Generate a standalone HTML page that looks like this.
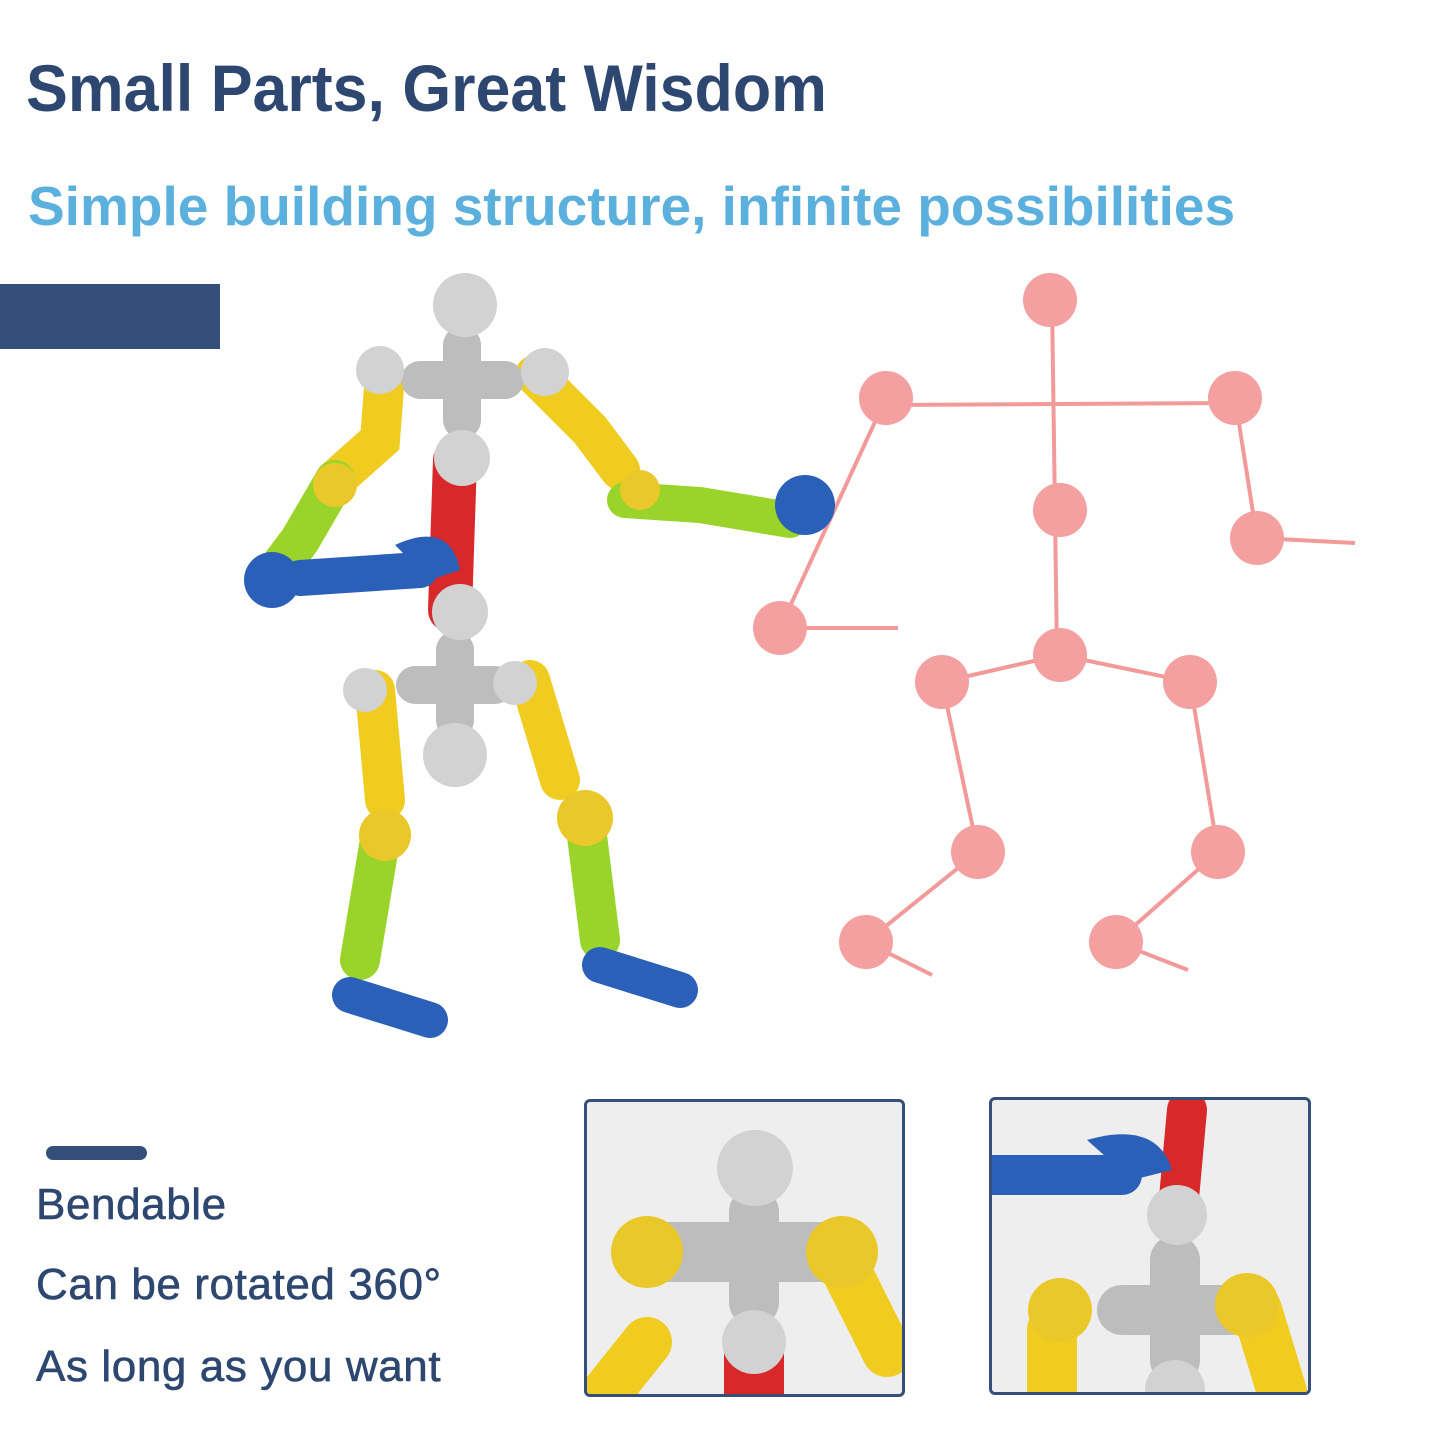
<!DOCTYPE html>
<html><head><meta charset="utf-8"><style>
body{margin:0;width:1445px;height:1445px;background:#fff;overflow:hidden;position:relative;font-family:"Liberation Sans",sans-serif}
.t1{position:absolute;left:26px;top:50px;font-size:66px;font-weight:bold;color:#2d4770;transform-origin:0 0;transform:scaleX(0.95);white-space:nowrap}
.t2{position:absolute;left:28px;top:174px;font-size:55px;font-weight:bold;color:#5bb0dd;white-space:nowrap;transform-origin:0 0;transform:scaleX(1.0)}
.bar{position:absolute;left:0;top:284px;width:220px;height:65px;background:#34507a}
.tx{position:absolute;left:36px;font-size:44px;color:#2d4770;letter-spacing:0.6px;-webkit-text-stroke:0.6px #2d4770}
.pill{position:absolute;left:46px;top:1146px;width:101px;height:14px;border-radius:7px;background:#34507a}
.box{position:absolute;border:3px solid #34507a;border-radius:6px;background:#eeeeee;overflow:hidden}
</style></head><body>
<div class="t1">Small Parts, Great Wisdom</div>
<div class="t2">Simple building structure, infinite possibilities</div>
<div class="bar"></div>
<svg width="1445" height="1445" style="position:absolute;left:0;top:0">
<g stroke="#f29a9a" stroke-width="4" fill="none">
<line x1="1052" y1="300" x2="1057" y2="655"/>
<line x1="886" y1="405" x2="1235" y2="403"/>
<polyline points="1235,398 1257,538 1355,543"/>
<polyline points="886,398 780,628 898,628"/>
<polyline points="942,682 1060,655 1190,682"/>
<polyline points="942,682 978,852 866,942 932,975"/>
<polyline points="1190,682 1218,852 1116,942 1188,970"/>
</g>
<g fill="#f5a0a0">
<circle cx="1050" cy="300" r="27"/><circle cx="886" cy="398" r="27"/><circle cx="1235" cy="398" r="27"/>
<circle cx="1060" cy="510" r="27"/><circle cx="1257" cy="538" r="27"/><circle cx="780" cy="628" r="27"/>
<circle cx="1060" cy="655" r="27"/><circle cx="942" cy="682" r="27"/><circle cx="1190" cy="682" r="27"/>
<circle cx="978" cy="852" r="27"/><circle cx="1218" cy="852" r="27"/><circle cx="866" cy="942" r="27"/><circle cx="1116" cy="942" r="27"/>
</g>
<g stroke-linecap="round" fill="none">
<line x1="455" y1="460" x2="450" y2="610" stroke="#d8282a" stroke-width="44"/>
<polyline points="385,375 380,440 335,480 300,540 270,580" stroke="#f0cc20" stroke-width="40"/>
<polyline points="335,480 300,540 270,580" stroke="#9ad42a" stroke-width="40"/>
<line x1="300" y1="578" x2="420" y2="570" stroke="#2a60b8" stroke-width="36"/>
<polyline points="535,375 590,430 620,470" stroke="#f0cc20" stroke-width="40"/>
<polyline points="625,500 700,505 790,520" stroke="#9ad42a" stroke-width="36"/>
<polyline points="375,690 385,800" stroke="#f0cc20" stroke-width="40"/>
<polyline points="380,840 360,960" stroke="#9ad42a" stroke-width="40"/>
<line x1="350" y1="995" x2="430" y2="1020" stroke="#2a60b8" stroke-width="36"/>
<polyline points="530,680 560,780" stroke="#f0cc20" stroke-width="40"/>
<polyline points="585,820 600,940" stroke="#9ad42a" stroke-width="40"/>
<line x1="600" y1="965" x2="680" y2="990" stroke="#2a60b8" stroke-width="36"/>
<line x1="420" y1="380" x2="505" y2="380" stroke="#bdbdbd" stroke-width="38"/>
<line x1="462" y1="345" x2="462" y2="420" stroke="#bdbdbd" stroke-width="38"/>
<line x1="415" y1="685" x2="495" y2="685" stroke="#bdbdbd" stroke-width="38"/>
<line x1="455" y1="650" x2="455" y2="720" stroke="#bdbdbd" stroke-width="38"/>
</g>
<g fill="#d2d2d2">
<circle cx="465" cy="305" r="32"/><circle cx="462" cy="458" r="28"/><circle cx="460" cy="612" r="28"/><circle cx="455" cy="755" r="32"/>
<circle cx="380" cy="370" r="24"/><circle cx="545" cy="372" r="24"/><circle cx="365" cy="690" r="22"/><circle cx="515" cy="683" r="22"/>
</g>
<g fill="#eac82a"><circle cx="335" cy="485" r="22"/><circle cx="385" cy="835" r="26"/><circle cx="585" cy="818" r="28"/><circle cx="640" cy="490" r="20"/></g>
<g fill="#2a60b8"><circle cx="272" cy="580" r="28"/><circle cx="805" cy="505" r="30"/><path d="M395,545 q55,-25 65,25 l-30,10z"/></g>
</svg>
<div class="pill"></div>
<div class="tx" style="top:1180px">Bendable</div>
<div class="tx" style="top:1260px">Can be rotated 360°</div>
<div class="tx" style="top:1342px">As long as you want</div>
<div class="box" style="left:584px;top:1099px;width:315px;height:292px">
<svg width="315" height="292"><g stroke-linecap="round" fill="none">
<line x1="60" y1="240" x2="20" y2="290" stroke="#f0cc20" stroke-width="50"/>
<line x1="250" y1="150" x2="300" y2="250" stroke="#f0cc20" stroke-width="50"/>
<line x1="70" y1="150" x2="245" y2="150" stroke="#bdbdbd" stroke-width="60"/>
<line x1="167" y1="110" x2="167" y2="200" stroke="#bdbdbd" stroke-width="50"/>
<line x1="167" y1="250" x2="167" y2="292" stroke="#d8282a" stroke-width="60"/></g>
<circle cx="168" cy="66" r="38" fill="#d2d2d2"/><circle cx="167" cy="240" r="32" fill="#d2d2d2"/>
<circle cx="60" cy="150" r="36" fill="#eac82a"/><circle cx="255" cy="150" r="36" fill="#eac82a"/></svg></div>
<div class="box" style="left:989px;top:1097px;width:316px;height:292px">
<svg width="316" height="292"><g stroke-linecap="round" fill="none">
<line x1="195" y1="10" x2="185" y2="120" stroke="#d8282a" stroke-width="40"/>
<line x1="0" y1="75" x2="130" y2="75" stroke="#2a60b8" stroke-width="40"/>
<line x1="60" y1="230" x2="60" y2="292" stroke="#f0cc20" stroke-width="50"/>
<line x1="265" y1="210" x2="290" y2="292" stroke="#f0cc20" stroke-width="50"/>
<line x1="130" y1="210" x2="240" y2="210" stroke="#bdbdbd" stroke-width="50"/>
<line x1="183" y1="160" x2="183" y2="260" stroke="#bdbdbd" stroke-width="50"/></g>
<path d="M95,40 q70,-20 85,30 l-40,10z" fill="#2a60b8"/>
<circle cx="185" cy="115" r="30" fill="#d2d2d2"/><circle cx="183" cy="290" r="30" fill="#d2d2d2"/>
<circle cx="68" cy="210" r="32" fill="#eac82a"/><circle cx="255" cy="205" r="32" fill="#eac82a"/></svg></div>
</body></html>
